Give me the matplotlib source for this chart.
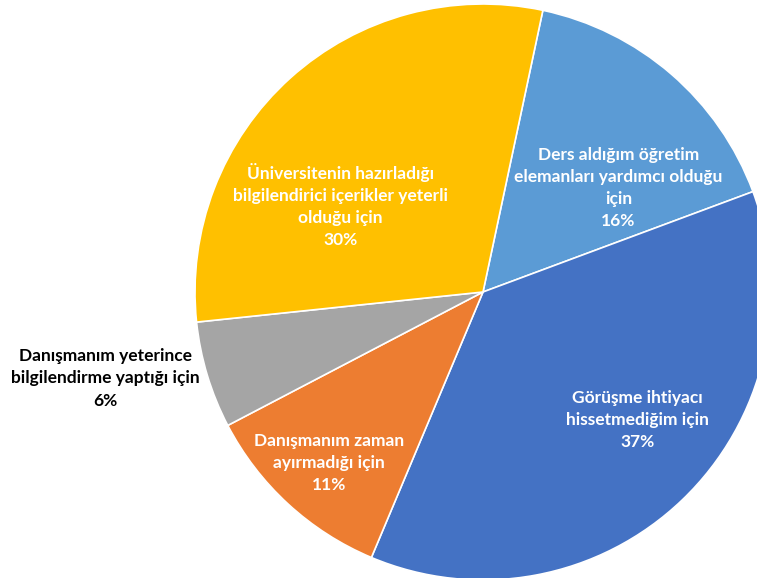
import matplotlib
matplotlib.use("Agg")
import matplotlib.pyplot as plt

labels = ["Ders aldığım öğretim\nelemanları yardımcı olduğu\niçin",
          "Görüşme ihtiyacı\nhissetmediğim için",
          "Danışmanım zaman\nayırmadığı için",
          "Danışmanım yeterince\nbilgilendirme yaptığı için",
          "Üniversitenin hazırladığı\nbilgilendirici içerikler yeterli\nolduğu için"]
values = [16, 37, 11, 6, 30]
colors = ["#5B9BD5", "#4472C4", "#ED7D31", "#A5A5A5", "#FFC000"]
text_colors = ["white", "white", "white", "black", "white"]
# label centers in data units (radius = 1)
label_pos = [(0.47, 0.36), (0.535, -0.445), (-0.535, -0.595), (-1.31, -0.30), (-0.495, 0.30)]

W, H = 757, 578
cx, cy, R = 483, 292, 288
fig = plt.figure(figsize=(W / 100, H / 100), dpi=100)
ax = fig.add_axes([0, 0, 1, 1])
ax.pie(values, colors=colors, startangle=78, counterclock=False, radius=1,
       wedgeprops=dict(edgecolor="white", linewidth=1.2))
ax.set_xlim(-cx / R, (W - cx) / R)
ax.set_ylim(-(H - cy) / R, cy / R)
ax.set_aspect("auto")
ax.axis("off")

for lab, v, (x, y), tc in zip(labels, values, label_pos, text_colors):
    ax.text(x, y, f"{lab}\n{v}%", ha="center", va="center", color=tc,
            fontsize=12.5, fontweight="bold", family="Lato", linespacing=1.47)

fig.savefig("out.png", dpi=100)
